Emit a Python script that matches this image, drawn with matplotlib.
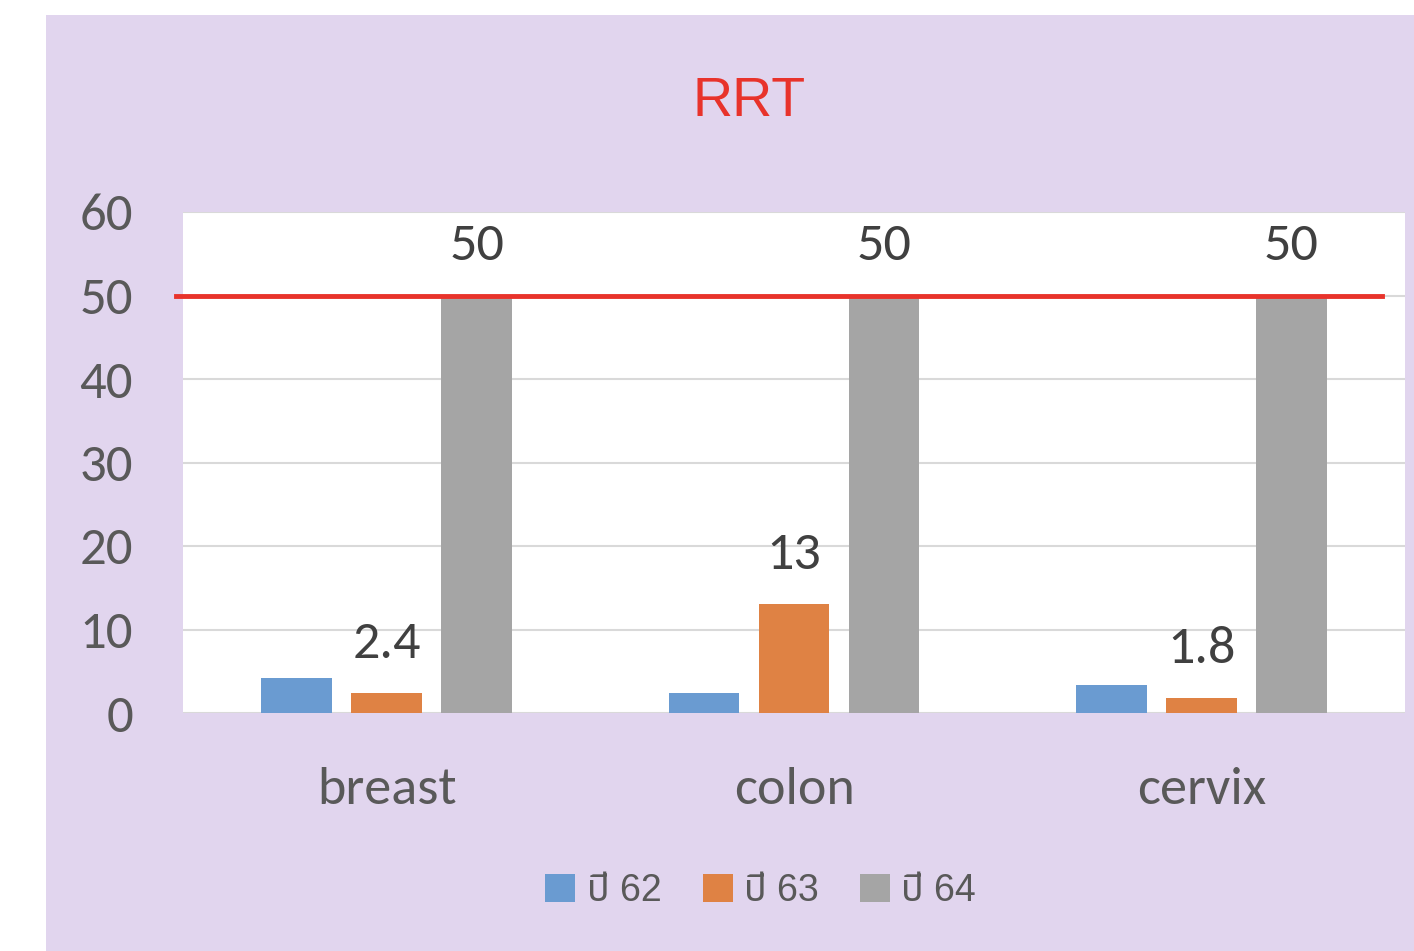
import matplotlib
matplotlib.use('Agg')
import matplotlib.pyplot as plt
import matplotlib.transforms as mtransforms
from matplotlib.patches import Rectangle
import numpy as np

# ---------------- data ----------------
categories = ['breast', 'colon', 'cervix']
series_names = ['ปี 62', 'ปี 63', 'ปี 64']
y62 = [4.2, 2.4, 3.3]
y63 = [2.4, 13, 1.8]
y64 = [50, 50, 50]
labelled = {1: [2.4, 13, 1.8], 2: [50, 50, 50]}   # which series carry data labels
target = 50
yticks = [0, 10, 20, 30, 40, 50, 60]
title = 'RRT'

colors = ['#6A9BD1', '#DF8244', '#A5A5A5']
bg = '#E1D5EE'
txt = '#595959'
num_font = ['Carlito', 'Lato', 'DejaVu Sans']
thai_font = ['Liberation Sans', 'Noto Sans Thai', 'Sarabun', 'Bai Jamjuree', 'DejaVu Sans']

fig = plt.figure(figsize=(14.14, 9.51), dpi=100, facecolor='white')
# lavender chart area
fig.patches.append(Rectangle((46 / 1414, 0), 1 - 46 / 1414, 1 - 15 / 951,
                             transform=fig.transFigure, facecolor=bg, edgecolor='none', zorder=-10))

ax = fig.add_axes([183 / 1414, 1 - 713 / 951, (1405 - 183) / 1414, (713 - 212) / 951])
ax.set_facecolor('white')

x = np.arange(len(categories))
w = 0.174
off = 0.221
data = [y62, y63, y64]
for i, vals in enumerate(data):
    bars = ax.bar(x + (i - 1) * off, vals, width=w, color=colors[i], label=series_names[i], zorder=3)
    if i in labelled:
        for b, v in zip(bars, vals):
            ax.annotate(f'{v:g}', (b.get_x() + b.get_width() / 2, v), xytext=(0, 19),
                        textcoords='offset points', ha='center', va='bottom',
                        fontsize=39, color='#404040', family=num_font, weight='medium')

# target line, a little wider than the plot on the left
trans = mtransforms.blended_transform_factory(ax.transAxes, ax.transData)
ax.plot([-0.006, 0.981], [target, target], transform=trans, color='#E8332B', lw=3.5,
        clip_on=False, zorder=5)

ax.set_xlim(-0.5, len(categories) - 0.5)
ax.set_ylim(0, 60)
ax.set_yticks(yticks)
ax.set_xticks(x)
ax.set_xticklabels(categories)
ax.grid(axis='y', color='#D9D9D9', lw=1.5, zorder=0)
for s in ax.spines.values():
    s.set_visible(False)
ax.tick_params(length=0)
ax.tick_params(axis='y', pad=36, labelsize=38, labelcolor=txt)
ax.tick_params(axis='x', pad=39, labelsize=39, labelcolor=txt)
for lab in ax.get_xticklabels() + ax.get_yticklabels():
    lab.set_family(num_font)
    lab.set_weight('medium')

fig.text(0.530, 0.893, title, ha='center', va='center', color='#E8332B', fontsize=40,
         family=['Liberation Sans', 'DejaVu Sans'])

leg = fig.legend(loc='center', bbox_to_anchor=(0.538, 0.063), ncol=3, frameon=False,
                 handlelength=0.8, handleheight=0.8, handletextpad=0.3, columnspacing=1.1,
                 prop={'family': thai_font, 'size': 27})
for t in leg.get_texts():
    t.set_color(txt)

fig.savefig('out.png', dpi=100, facecolor='white')
